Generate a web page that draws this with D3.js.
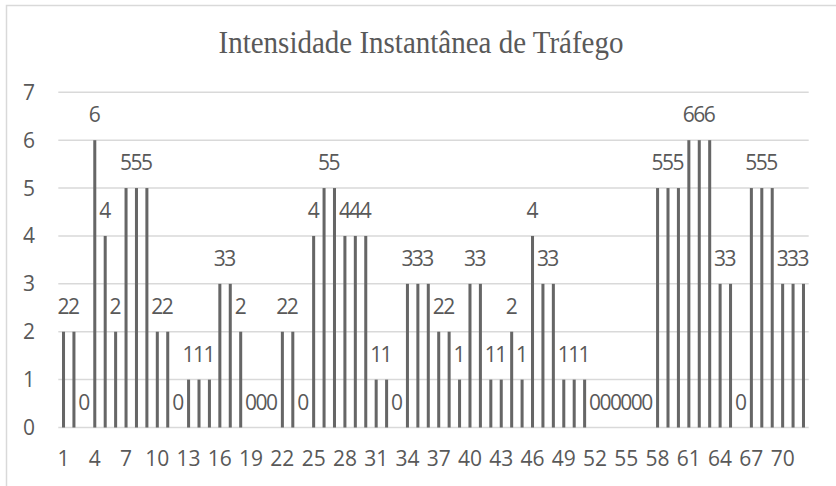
<!DOCTYPE html>
<html>
<head>
<meta charset="utf-8">
<script src="https://cdn.jsdelivr.net/npm/d3@7"></script>
<style>
  body { margin: 0; background: #fff; }
  svg text { font-family: "Open Sans", "Liberation Sans", sans-serif; fill: #595959; }
</style>
</head>
<body>
<svg width="836" height="486"></svg>
<script>
var title = "Intensidade Instantânea de Tráfego";
var categories = d3.range(1, 73);
var values = [2,2,0,6,4,2,5,5,5,2,2,0,1,1,1,3,3,2,
              0,0,0,2,2,0,4,5,5,4,4,4,1,1,0,3,3,3,
              2,2,1,3,3,1,1,2,1,4,3,3,1,1,1,0,0,0,
              0,0,0,5,5,5,6,6,6,3,3,0,5,5,5,3,3,3];
var yTicks = [0,1,2,3,4,5,6,7];
var xTickLabels = categories.filter(function (d) { return (d - 1) % 3 == 0; });

var svg = d3.select("svg");
var width = +svg.attr("width");
var height = +svg.attr("height");

// chart frame (runs past the window on right and bottom)
svg.append("rect")
    .attr("x", 6.5).attr("y", 5.5)
    .attr("width", width).attr("height", height)
    .attr("fill", "#fff")
    .attr("stroke", "#d9d9d9")
    .attr("stroke-width", 1.5);

var x = d3.scaleBand()
    .domain(categories)
    .range([58.3, 808.7])
    .paddingInner(0.71)
    .paddingOuter(0.355);

var y = d3.scaleLinear()
    .domain([0, 7])
    .range([427.5, 92.3]);

// title, a bit taller than wide like the original
svg.append("text")
    .attr("transform", "translate(421,53) scale(1,1.08)")
    .attr("text-anchor", "middle")
    .style("font-family", "'Liberation Serif', 'Times New Roman', serif")
    .style("font-size", "29px")
    .text(title);

// gridlines
svg.append("g")
    .selectAll("line")
    .data(yTicks)
    .enter().append("line")
    .attr("x1", 58.3)
    .attr("x2", 808.7)
    .attr("y1", function (d) { return y(d); })
    .attr("y2", function (d) { return y(d); })
    .attr("stroke", "#d9d9d9")
    .attr("stroke-width", 1.5);

// y labels
svg.append("g")
    .selectAll("text")
    .data(yTicks)
    .enter().append("text")
    .attr("x", 35)
    .attr("y", function (d) { return y(d) + 7.5; })
    .attr("text-anchor", "end")
    .style("font-size", "21px")
    .text(function (d) { return d; });

// bars
svg.append("g")
    .selectAll("rect")
    .data(values)
    .enter().append("rect")
    .attr("x", function (d, i) { return x(categories[i]); })
    .attr("width", x.bandwidth())
    .attr("y", function (d) { return y(d); })
    .attr("height", function (d) { return y(0) - y(d); })
    .attr("fill", "#666666");

// data labels
svg.append("g")
    .selectAll("text")
    .data(values)
    .enter().append("text")
    .attr("x", function (d, i) { return x(categories[i]) + x.bandwidth() / 2; })
    .attr("y", function (d) { return y(d) - 18; })
    .attr("text-anchor", "middle")
    .style("font-size", "21px")
    .text(function (d) { return d; });

// x labels
svg.append("g")
    .selectAll("text")
    .data(xTickLabels)
    .enter().append("text")
    .attr("x", function (d) { return x(d) + x.bandwidth() / 2; })
    .attr("y", 466)
    .attr("text-anchor", "middle")
    .style("font-size", "21px")
    .text(function (d) { return d; });
</script>
</body>
</html>
